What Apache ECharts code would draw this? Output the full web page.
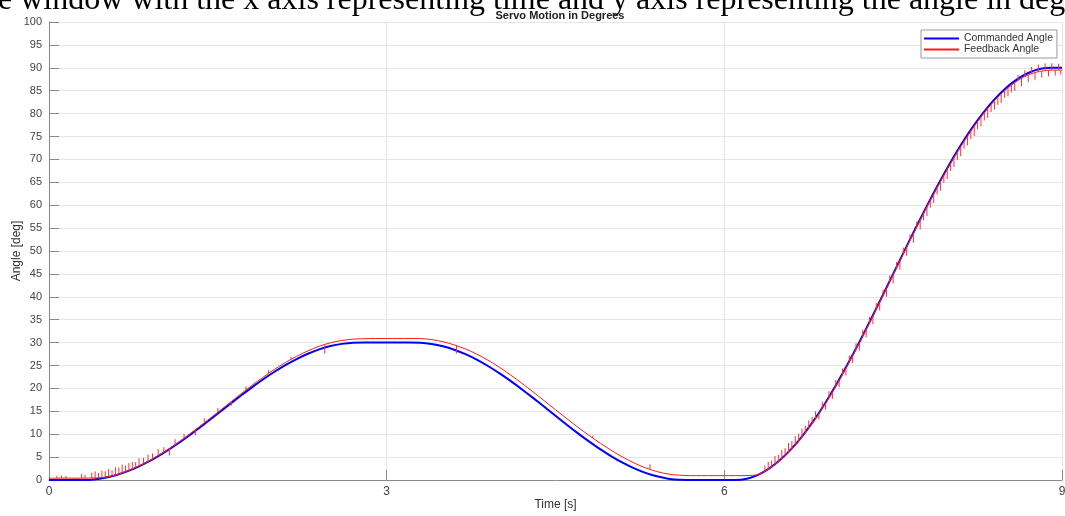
<!DOCTYPE html>
<html><head><meta charset="utf-8">
<script src="https://cdn.jsdelivr.net/npm/echarts@6/dist/echarts.min.js"></script>
<style>html,body{margin:0;padding:0;background:#fff;overflow:hidden;}#c{width:1065px;height:516px;}</style>
</head><body><div id="c"></div>
<script>
// ---- data ----
const time = [0.0,0.1,0.2,0.3,0.4,0.5,0.6,0.7,0.8,0.9,
  1.0,1.1,1.2,1.3,1.4,1.5,1.6,1.7,1.8,1.9,
  2.0,2.1,2.2,2.3,2.4,2.5,2.6,2.7,2.8,2.9,
  3.0,3.1,3.2,3.3,3.4,3.5,3.6,3.7,3.8,3.9,
  4.0,4.1,4.2,4.3,4.4,4.5,4.6,4.7,4.8,4.9,
  5.0,5.1,5.2,5.3,5.4,5.5,5.6,5.7,5.8,5.9,
  6.0,6.1,6.2,6.3,6.4,6.5,6.6,6.7,6.8,6.9,
  7.0,7.1,7.2,7.3,7.4,7.5,7.6,7.7,7.8,7.9,
  8.0,8.1,8.2,8.3,8.4,8.5,8.6,8.7,8.8,8.9,9.0];
const commandedAngle = [0,0,0,0,0.12,0.49,1.10,1.93,2.98,4.22,
  5.65,7.23,8.93,10.73,12.61,14.52,16.44,18.34,20.18,21.94,
  23.58,25.08,26.41,27.56,28.52,29.24,29.72,29.97,30,30,
  30,30,30,29.97,29.71,29.20,28.45,27.47,26.28,24.89,
  23.33,21.63,19.82,17.93,15.98,14.02,12.07,10.18,8.37,6.67,
  5.11,3.72,2.53,1.55,0.80,0.29,0.03,0,0,0,
  0,0,0.28,1.13,2.53,4.46,6.90,9.82,13.18,16.94,
  21.06,25.48,30.14,34.99,39.96,45.00,50.04,55.01,59.86,64.52,
  68.94,73.06,76.82,80.18,83.10,85.54,87.47,88.87,89.72,90,90];
const feedbackAngle = [0.4,0.4,0.4,0.4,0.45,0.6,1.15,2.0,3.05,4.3,
  5.75,7.35,9.1,10.95,12.85,14.8,16.75,18.7,20.6,22.4,
  24.1,25.65,27.0,28.2,29.2,29.95,30.45,30.75,30.85,30.9,
  30.9,30.9,30.9,30.88,30.65,30.2,29.5,28.6,27.5,26.15,
  24.65,22.95,21.15,19.25,17.3,15.35,13.4,11.5,9.7,8.0,
  6.4,4.95,3.7,2.65,1.85,1.3,1.05,0.95,0.95,0.95,
  0.95,0.95,0.98,1.2,2.5,4.4,6.8,9.7,13.0,16.75,
  20.85,25.3,29.95,34.8,39.8,44.8,49.85,54.8,59.65,64.3,
  68.7,72.8,76.55,79.9,82.8,85.2,87.1,88.45,89.2,89.5,89.5];
// feedback jitter spikes: [time, vertical extent in deg]
const feedbackSpikes = [
  [0.07,0.5],[0.11,0.6],[0.15,0.5],[0.29,0.9],[0.32,0.7],
  [0.38,1.2],[0.41,1.4],[0.44,1.0],[0.47,1.5],[0.50,1.3],[0.53,1.6],[0.56,1.2],[0.59,1.7],
  [0.62,1.4],[0.65,1.8],[0.68,1.3],[0.71,1.6],[0.74,1.5],[0.77,1.2],[0.80,1.7],[0.84,1.3],
  [0.88,1.5],[0.92,1.2],[0.97,1.4],[1.02,1.1],[1.07,-1.5],[1.12,1.2],[1.20,1.0],[1.30,-1.2],
  [1.38,1.0],[1.50,0.9],[1.62,-0.9],[1.75,0.8],[1.95,0.7],[2.15,0.6],[2.45,-2.0],
  [3.62,-1.7],[4.83,0.4],[5.34,1.1],
  [6.36,1.2],[6.39,1.6],[6.42,1.4],[6.45,1.8],[6.48,1.5],[6.51,1.9],[6.54,1.6],[6.57,2.0],
  [6.60,1.7],[6.63,1.9],[6.66,1.6],[6.69,1.8],[6.72,1.5],[6.75,1.7],[6.78,1.4],[6.81,1.6],
  [6.84,-1.3],[6.87,1.5],[6.90,-1.4],[6.93,1.4],[6.96,-1.5],[6.99,1.4],[7.02,-1.5],[7.05,1.3],
  [7.08,-1.6],[7.11,1.4],[7.14,-1.6],[7.17,1.3],[7.20,-1.7],[7.23,1.4],[7.26,-1.7],[7.29,1.3],
  [7.32,-1.8],[7.35,1.4],[7.38,-1.8],[7.41,1.3],[7.44,-1.8],[7.47,1.4],[7.50,-1.9],[7.53,1.3],
  [7.56,-1.9],[7.59,1.4],[7.62,-1.9],[7.65,1.3],[7.68,-2.0],[7.71,1.2],[7.74,-2.0],[7.77,-1.5],
  [7.80,-2.0],[7.83,-1.6],[7.86,-2.0],[7.89,-1.5],[7.92,-2.0],[7.95,-1.6],[7.98,-2.1],[8.01,-1.6],
  [8.04,-2.0],[8.07,-1.7],[8.10,-2.1],[8.13,-1.6],[8.16,-2.0],[8.19,-1.7],[8.22,-2.1],[8.25,-1.6],
  [8.28,-2.0],[8.31,-1.7],[8.34,-2.0],[8.37,-1.6],[8.40,-1.9],[8.43,-1.6],[8.46,-1.9],[8.49,-1.5],
  [8.52,-1.8],[8.55,-1.5],[8.58,-1.8],[8.61,1.2],[8.64,-1.7],[8.67,1.4],[8.70,-1.6],[8.73,1.5],
  [8.76,-1.5],[8.79,1.6],[8.82,-1.4],[8.85,1.6],[8.88,-1.3],[8.91,1.5],[8.94,-1.2],[8.97,1.4],[8.99,-1.0]];
const seriesNames = ['Commanded Angle','Feedback Angle'];
const seriesColors = ['#0000ff','#ff1a1a'];
const chartTitle = 'Servo Motion in Degrees';
const xName = 'Time [s]';
const yName = 'Angle [deg]';
const captionText = 'e window with the x axis representing time and y axis representing the angle in deg';

// ---- build ----
function fbAt(t){
  for (let i=0;i<time.length-1;i++){
    if (t>=time[i] && t<=time[i+1]){
      const f=(t-time[i])/(time[i+1]-time[i]);
      return feedbackAngle[i]+f*(feedbackAngle[i+1]-feedbackAngle[i]);
    }
  }
  return feedbackAngle[feedbackAngle.length-1];
}
const spikeData = feedbackSpikes.map(s=>{const b=fbAt(s[0]);return [s[0],b,b+s[1]];});
const cmdData = time.map((t,i)=>[t,commandedAngle[i]]);
const fbData = time.map((t,i)=>[t,feedbackAngle[i]]);

const FONT = '"Liberation Sans", Arial, sans-serif';
const chart = echarts.init(document.getElementById('c'), null, {renderer:'canvas'});
chart.setOption({
  animation:false,
  backgroundColor:'#ffffff',
  title:{text:chartTitle,left:555,textAlign:'center',top:5,
    textStyle:{fontSize:11,fontWeight:'bold',color:'#222',fontFamily:FONT}},
  legend:{data:[
      {name:seriesNames[0],icon:'rect',itemStyle:{color:seriesColors[0]}},
      {name:seriesNames[1],icon:'rect',itemStyle:{color:seriesColors[1]}}],
    left:921,top:30,orient:'vertical',itemWidth:35,itemHeight:2,itemGap:0,
    padding:[3,4,3,3],borderColor:'#9a9a9a',borderWidth:1,backgroundColor:'#fff',
    textStyle:{fontSize:10.4,lineHeight:11,color:'#333',fontFamily:FONT}},
  grid:{left:49,right:3,top:22,bottom:36,containLabel:false,outerBoundsMode:'none'},
  xAxis:{type:'value',min:0,max:9,interval:3,
    axisLine:{show:true,onZero:false,lineStyle:{color:'#8a8a8a',width:1}},
    axisTick:{show:true,inside:true,length:10,lineStyle:{color:'#8a8a8a'}},
    axisLabel:{margin:6,fontSize:12,color:'#444',fontFamily:FONT},
    splitLine:{show:true,lineStyle:{color:'#e6e6e6'}},
    name:xName,nameLocation:'middle',nameGap:19,nameMoveOverlap:false,
    nameTextStyle:{fontSize:12,color:'#333',fontFamily:FONT}},
  yAxis:{type:'value',min:0,max:100,interval:5,
    axisLine:{show:true,onZero:false,lineStyle:{color:'#8a8a8a',width:1}},
    axisTick:{show:true,inside:true,length:10,lineStyle:{color:'#8a8a8a'}},
    axisLabel:{margin:7,fontSize:11,color:'#444',fontFamily:FONT},
    splitLine:{show:true,lineStyle:{color:'#e6e6e6'}},
    name:yName,nameLocation:'middle',nameGap:26,nameRotate:90,nameMoveOverlap:false,
    nameTextStyle:{fontSize:12,color:'#333',fontFamily:FONT}},
  graphic:[{type:'text',x:-2,y:1,silent:true,z:-1,
    style:{text:captionText,font:'32px "Liberation Serif", "Times New Roman", serif',fill:'#000',verticalAlign:'middle'}}],
  series:[
    {name:seriesNames[0],type:'line',data:cmdData,symbol:'none',smooth:0.3,
      lineStyle:{color:seriesColors[0],width:2},itemStyle:{color:seriesColors[0]},z:2},
    {name:seriesNames[1],type:'line',data:fbData,symbol:'none',smooth:0.3,
      lineStyle:{color:seriesColors[1],width:1},itemStyle:{color:seriesColors[1]},z:3},
    {name:'spikes',type:'custom',data:spikeData,encode:{x:0,y:[1,2]},clip:true,z:3,
      itemStyle:{color:'#ff3030'},
      renderItem:function(params,api){
        const p0=api.coord([api.value(0),api.value(1)]);
        const p1=api.coord([api.value(0),api.value(2)]);
        return {type:'line',shape:{x1:p0[0],y1:p0[1],x2:p0[0],y2:p1[1]},
          style:{stroke:'#ff3030',fill:null,lineWidth:1}};
      }}
  ]
});
</script></body></html>
